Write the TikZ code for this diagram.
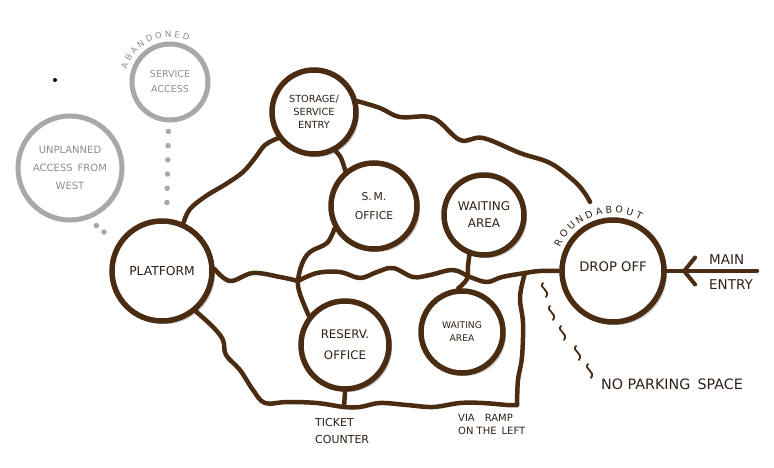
\documentclass[tikz,border=0pt]{standalone}
\usepackage{fontspec}
\setmainfont{DejaVu Sans}
\usetikzlibrary{decorations.text,decorations.markings,arrows.meta,shadows}
\definecolor{ink}{HTML}{4A2C12}
\definecolor{txt}{HTML}{2E2016}
\definecolor{ghost}{HTML}{A8A8A8}
\definecolor{ghosttxt}{HTML}{8E8E8E}
\newcommand\myfs[2]{\fontsize{#1}{#2}\selectfont}
\begin{document}
\begin{tikzpicture}[x=1pt,y=1pt,
  room/.style={circle, draw=ink, line width=5.5pt, fill=white, text=txt, align=center, inner sep=0pt,
    drop shadow={shadow xshift=3pt, shadow yshift=-3pt, fill=black!22, opacity=1}},
  ghostroom/.style={circle, draw=ghost, line width=5pt, fill=white, text=ghosttxt, align=center, inner sep=0pt},
  road/.style={draw=ink, line width=4.5pt, line cap=round, line join=round},
  dots/.style={draw=ghost, line width=5.5pt, line cap=round, dash pattern=on 0pt off 14.2pt},
  lbl/.style={text=txt, inner sep=0pt},
  squiggle/.pic={\draw[ink, line width=1.8pt, line cap=round] (-2,7) .. controls (-7,2) and (6,0) .. (1,-7);}
]
\useasboundingbox (0,0) rectangle (774,-468);

% grey nodes
\node[ghostroom, minimum size=76pt, font=\myfs{9.5}{15}] (service) at (170,-82) {SERVICE\\ACCESS};
\node[ghostroom, minimum size=104pt, font=\myfs{10}{18}] (unplanned) at (70,-168) {UNPLANNED\\ACCESS\enspace FROM\\WEST};
\node[circle, fill=black, inner sep=0pt, minimum size=4pt] (dot) at (55,-80) {};

% rooms
\node[room, minimum size=100pt, font=\myfs{12.3}{14}] (platform) at (162,-271) {PLATFORM};
\node[room, minimum size=84pt, font=\myfs{9.8}{13}] (storage) at (314,-112) {STORAGE/\\SERVICE\\ENTRY};
\node[room, minimum size=86pt, font=\myfs{10.8}{19}] (smoffice) at (374,-206) {S.\,M.\\OFFICE};
\node[room, minimum size=80pt, font=\myfs{12}{17}] (waitA) at (484,-215) {WAITING\\AREA};
\node[room, minimum size=102pt, font=\myfs{13.2}{15}] (dropoff) at (613,-271) {\raisebox{8pt}{DROP OFF}};
\node[room, minimum size=88pt, font=\myfs{11.8}{21}] (reserv) at (345,-345) {RESERV.\\OFFICE};
\node[room, minimum size=82pt, font=\myfs{9.2}{13}] (waitB) at (462,-332) {WAITING\\AREA};

% junctions
\coordinate (J1) at (298,-281);
\coordinate (J2) at (525,-273);
\coordinate (J3) at (517,-405);
\coordinate (J4) at (344,-407);
\coordinate (E1) at (590,-202);
\coordinate (ME) at (757,-271);

% dotted abandoned links
\draw[dots, shorten <=9pt, shorten >=6pt] (service.268) -- (platform.85);
\draw[dots, dash pattern=on 0pt off 10pt, shorten <=10pt, shorten >=8pt] (unplanned.290) -- (platform.148);

% roads
\draw[road] plot[smooth, tension=0.6] coordinates {(platform.66) (190,-209) (206,-196) (226,-184) (243,-172) (255,-158) (265,-145) (storage.216)};
\draw[road] plot[smooth, tension=0.6] coordinates {(storage.14) (380,-108) (400,-117) (433,-118) (460,-140) (483,-138) (520,-153) (550,-163) (573,-180) (584,-192) (E1)};
\draw[road] plot[smooth, tension=0.6] coordinates {(storage.299) (341,-158) (smoffice.129)};
\draw[road] plot[smooth, tension=0.6] coordinates {(platform.2) (230,-281) (253,-273) (280,-277) (J1)};
\draw[road] plot[smooth, tension=0.6] coordinates {(smoffice.210) (327,-243) (310,-252) (302,-264) (J1) (300,-294) (reserv.141)};
\draw[road] plot[smooth, tension=0.6] coordinates {(J1) (317,-273) (340,-272) (360,-278) (377,-272) (393,-268) (413,-277) (430,-275) (453,-270) (470,-277) (487,-282) (502,-277) (J2) (540,-271) (dropoff.west)};
\draw[road] plot[smooth, tension=0.6] coordinates {(J2) (520,-297) (523,-323) (522,-357) (518,-380) (J3)};
\draw[road] plot[smooth, tension=0.6] coordinates {(platform.310) (213,-327) (223,-340) (226,-355) (240,-370) (253,-390) (265,-403) (287,-402) (317,-403) (J4) (360,-407) (380,-403) (407,-405) (433,-407) (460,-403) (483,-403) (507,-405) (J3)};
\draw[road] (reserv.south) -- (J4);
\draw[road] plot[smooth, tension=0.6] coordinates {(waitA.250) (468,-266) (467,-279) (waitB.95)};

% main entry arrow
\draw[road, postaction={decorate}, decoration={markings, mark=at position 0.83 with {\arrow[ink]{Straight Barb[length=11pt, width=27pt, line width=4pt, round]}}}] (ME) -- (dropoff.east);

% curved labels
\path[decorate, decoration={text along path, text={|\myfs{9.5}{10}\color{txt}|ROUNDABOUT}, text align=fit to path}]
  ([shift={(156:58pt)}]dropoff.center) arc[start angle=156, end angle=62, radius=58pt];
\path[decorate, decoration={text along path, text={|\myfs{8.5}{9}\color{ghosttxt}|ABANDONED}, text align=fit to path}]
  ([shift={(164:45pt)}]service.center) arc[start angle=164, end angle=66, radius=45pt];

% squiggles (no parking)
\pic at (545,-290) {squiggle};
\pic at (552,-313) {squiggle};
\pic at (563,-333) {squiggle};
\pic at (578,-353) {squiggle};
\pic at (590,-371) {squiggle};

% labels
\node[lbl, font=\myfs{11}{17}, align=left, anchor=west] (ticket) at (315,-431) {TICKET\\COUNTER};
\node[lbl, font=\myfs{10}{13}, align=left, anchor=west] (ramp) at (458,-424) {VIA\quad RAMP\\ON THE\enspace LEFT};
\node[lbl, font=\myfs{14.3}{15}] (nopark) at (672,-384) {NO PARKING\enspace SPACE};
\node[lbl, font=\myfs{13.5}{25}, align=left, anchor=west] (main) at (709,-272) {MAIN\\ENTRY};
\end{tikzpicture}
\end{document}
